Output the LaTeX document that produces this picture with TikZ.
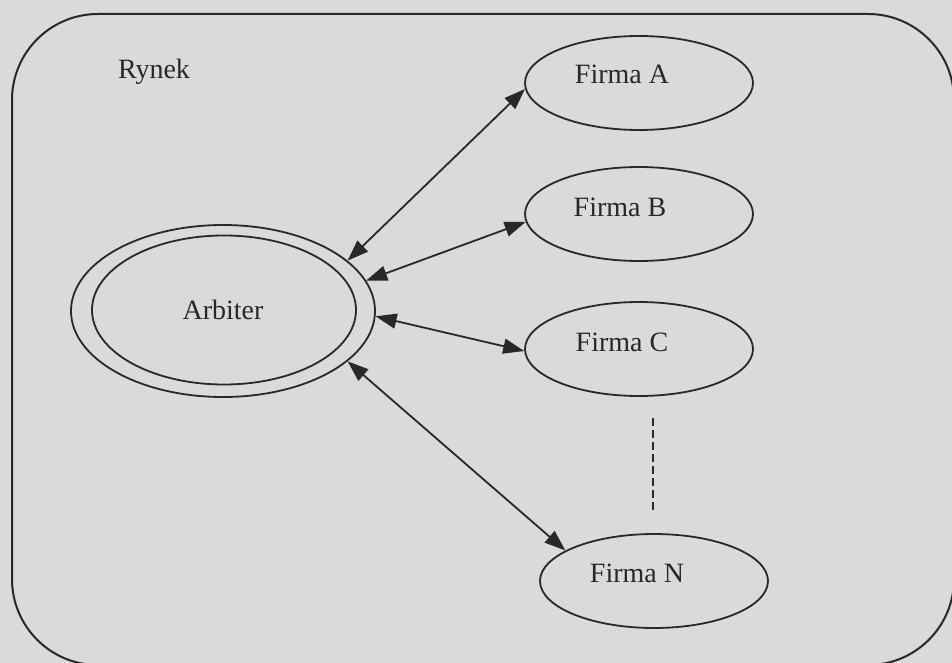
\documentclass[tikz,border=0pt]{standalone}
\usepackage{fontspec}
\setmainfont{Liberation Serif}
\usetikzlibrary{shapes.geometric,arrows.meta}
\definecolor{paper}{RGB}{218,218,218}
\definecolor{ink}{RGB}{40,40,40}
\begin{document}
\begin{tikzpicture}[x=1pt,y=-1pt,
  every node/.style={text=ink,font=\fontsize{28}{33}\selectfont},
  firm/.style={draw=ink,line width=1.8pt,ellipse,inner sep=0pt,
    minimum width=228pt,minimum height=94pt},
  link/.style={draw=ink,line width=1.8pt,
    {Triangle[length=21pt,width=15pt]}-{Triangle[length=21pt,width=15pt]}},
  ring/.style={draw=ink,line width=1.8pt,ellipse,inner sep=0pt}]
  % canvas
  \fill[paper] (0,0) rectangle (952,663);
  \useasboundingbox (0,0) rectangle (952,663);
  \clip (0,0) rectangle (952,663);

  % market frame
  \draw[ink,line width=2pt,rounded corners=86pt] (12,14) rectangle (954,665);
  \node (rynek) at (154,72) {Rynek};

  % arbiter (double ellipse)
  \node[ring,minimum width=304pt,minimum height=172pt] (arbout) at (223,311) {};
  \node[ring,minimum width=264pt,minimum height=149pt] (arbin) at (224,310) {};
  \node (arbtext) at (223,310) {Arbiter};

  % firms
  \node[firm,label={[xshift=-17pt,yshift=9pt]center:Firma A}] (fa) at (639,83) {};
  \node[firm,label={[xshift=-19pt,yshift=7pt]center:Firma B}] (fb) at (639,214) {};
  \node[firm,label={[xshift=-17pt,yshift=7pt]center:Firma C}] (fc) at (639,349) {};
  \node[firm,label={[xshift=-17pt,yshift=8pt]center:Firma N}] (fn) at (654,581) {};

  % links between arbiter and firms
  \draw[link] (arbout.22) -- (fa.183.5);
  \draw[link] (arbout.12.5) -- (fb.184);
  \draw[link] (arbout.-2.3) -- (fc.181.5);
  \draw[link] (arbout.-22.5) -- (fn.161.7);

  % ellipsis between firm C and firm N
  \coordinate (gapa) at (653,418);
  \coordinate (gapb) at (653,513);
  \draw[ink,line width=1.5pt,dash pattern=on 8pt off 4pt] (gapa) -- (gapb);
\end{tikzpicture}
\end{document}
